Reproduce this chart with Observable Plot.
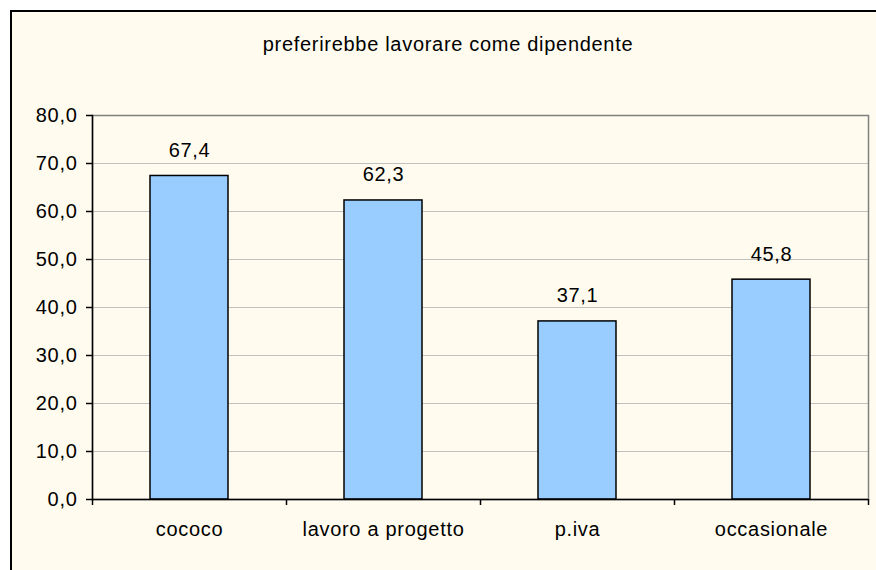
<!DOCTYPE html>
<html>
<head>
<meta charset="utf-8">
<script src="https://cdn.jsdelivr.net/npm/d3@7"></script>
<script src="https://cdn.jsdelivr.net/npm/@observablehq/plot@0.6"></script>
<style>
  html, body { margin: 0; padding: 0; background: #ffffff; overflow: hidden; width: 876px; height: 570px; }
  #frame {
    position: absolute; left: 10px; top: 10px; width: 900px; height: 600px;
    border: 2px solid #000; background: #FFFCEF; overflow: hidden;
  }
  #title {
    position: absolute; left: 0; top: 21px; width: 872px; text-align: center;
    font-family: "Liberation Sans", Arial, sans-serif; font-size: 20px; letter-spacing: 0.7px;
    color: #000; line-height: 23px;
  }
  #chart { position: absolute; left: 0; top: 0; }
  #chart svg text { letter-spacing: 0.7px; }
</style>
</head>
<body>
<div id="frame">
  <div id="title">preferirebbe lavorare come dipendente</div>
  <div id="chart"></div>
</div>
<script>
const categories = ["cococo", "lavoro a progetto", "p.iva", "occasionale"];
const values = [67.4, 62.3, 37.1, 45.8];
const yTicks = [0, 10, 20, 30, 40, 50, 60, 70, 80];

const data = categories.map((c, i) => ({cat: c, val: values[i]}));
const fmt = d => d.toFixed(1).replace(".", ",");

const plot = Plot.plot({
  width: 864,
  height: 558,
  marginLeft: 80,
  marginTop: 103,
  marginRight: 8,
  marginBottom: 71,
  style: {background: "transparent", fontFamily: "'Liberation Sans', Arial, sans-serif", fontSize: "20px", color: "#000"},
  x: {domain: categories, paddingInner: 0.6, paddingOuter: 0.3, axis: null, label: null},
  y: {domain: [0, 80], axis: null, label: null},
  marks: [
    Plot.gridY(yTicks, {stroke: "#c0c0c0", strokeOpacity: 1, strokeWidth: 1}),
    Plot.frame({stroke: "#808080", strokeWidth: 1.5}),
    Plot.barY(data, {x: "cat", y: "val", fill: "#99CCFF", stroke: "#000", strokeWidth: 1.5}),
    Plot.text(data, {x: "cat", y: "val", text: d => fmt(d.val), lineAnchor: "bottom", dy: -19, fill: "#000", fontSize: 20}),
    Plot.ruleY([0], {stroke: "#000", strokeWidth: 1.5}),
    Plot.frame({anchor: "left", stroke: "#000", strokeWidth: 1.5}),
    Plot.axisY({ticks: yTicks, tickFormat: fmt, tickSize: 6, tickPadding: 9, label: null, stroke: "#000", strokeWidth: 1.5, fill: "#000", fontSize: 20}),
    Plot.axisX({ticks: categories, tickSize: 0, tickPadding: 22, label: null, fill: "#000", fontSize: 20}),
    Plot.axisX({ticks: categories, tickSize: 6, text: null, label: null, dx: -97, stroke: "#000", strokeWidth: 1.5}),
    Plot.axisX({ticks: [categories[categories.length - 1]], tickSize: 6, text: null, label: null, dx: 97, stroke: "#000", strokeWidth: 1.5})
  ]
});
document.getElementById("chart").appendChild(plot);
</script>
</body>
</html>
